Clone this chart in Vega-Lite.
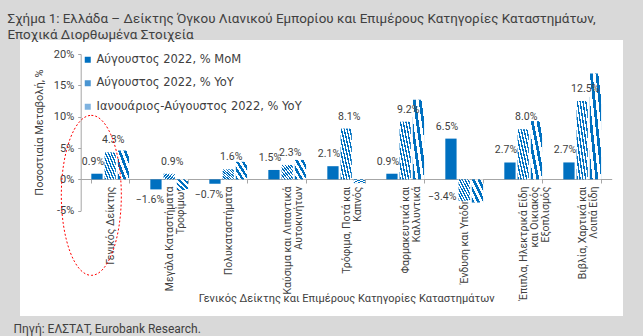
{
  "$schema": "https://vega.github.io/schema/vega-lite/v6.json",
  "background": "#d9d9d9",
  "autosize": {"type": "none"},
  "padding": {"left": 0, "top": 20, "right": 0, "bottom": 0},
  "width": 643,
  "height": 316,
  "view": {"fill": "#ffffff", "stroke": "#d9d9d9", "strokeWidth": 40},
  "datasets": {
    "bars": [
      {"category": "Γενικός Δείκτης", "series": "Αύγουστος 2022, % MoM", "value": 0.9},
      {"category": "Γενικός Δείκτης", "series": "Αύγουστος 2022, % YoY", "value": 4.3},
      {"category": "Γενικός Δείκτης", "series": "Ιανουάριος-Αύγουστος 2022, % YoY", "value": 4.6},
      {"category": "Μεγάλα Καταστήματα\nΤροφίμων", "series": "Αύγουστος 2022, % MoM", "value": -1.6},
      {"category": "Μεγάλα Καταστήματα\nΤροφίμων", "series": "Αύγουστος 2022, % YoY", "value": 0.9},
      {"category": "Μεγάλα Καταστήματα\nΤροφίμων", "series": "Ιανουάριος-Αύγουστος 2022, % YoY", "value": -1.7},
      {"category": "Πολυκαταστήματα", "series": "Αύγουστος 2022, % MoM", "value": -0.7},
      {"category": "Πολυκαταστήματα", "series": "Αύγουστος 2022, % YoY", "value": 1.6},
      {"category": "Πολυκαταστήματα", "series": "Ιανουάριος-Αύγουστος 2022, % YoY", "value": 2.8},
      {"category": "Καύσιμα και Λιπαντικά\nΑυτοκινήτων", "series": "Αύγουστος 2022, % MoM", "value": 1.5},
      {"category": "Καύσιμα και Λιπαντικά\nΑυτοκινήτων", "series": "Αύγουστος 2022, % YoY", "value": 2.3},
      {"category": "Καύσιμα και Λιπαντικά\nΑυτοκινήτων", "series": "Ιανουάριος-Αύγουστος 2022, % YoY", "value": 3.1},
      {"category": "Τρόφιμα, Ποτά και\nΚαπνός", "series": "Αύγουστος 2022, % MoM", "value": 2.1},
      {"category": "Τρόφιμα, Ποτά και\nΚαπνός", "series": "Αύγουστος 2022, % YoY", "value": 8.1},
      {"category": "Τρόφιμα, Ποτά και\nΚαπνός", "series": "Ιανουάριος-Αύγουστος 2022, % YoY", "value": -0.6},
      {"category": "Φαρμακευτικά και\nΚαλλυντικά", "series": "Αύγουστος 2022, % MoM", "value": 0.9},
      {"category": "Φαρμακευτικά και\nΚαλλυντικά", "series": "Αύγουστος 2022, % YoY", "value": 9.2},
      {"category": "Φαρμακευτικά και\nΚαλλυντικά", "series": "Ιανουάριος-Αύγουστος 2022, % YoY", "value": 12.7},
      {"category": "Ένδυση και Υπόδηση", "series": "Αύγουστος 2022, % MoM", "value": 6.5},
      {"category": "Ένδυση και Υπόδηση", "series": "Αύγουστος 2022, % YoY", "value": -3.4},
      {"category": "Ένδυση και Υπόδηση", "series": "Ιανουάριος-Αύγουστος 2022, % YoY", "value": -3.7},
      {"category": "Έπιπλα, Ηλεκτρικά Είδη\nκαι Οικιακός\nΕξοπλισμός", "series": "Αύγουστος 2022, % MoM", "value": 2.7},
      {"category": "Έπιπλα, Ηλεκτρικά Είδη\nκαι Οικιακός\nΕξοπλισμός", "series": "Αύγουστος 2022, % YoY", "value": 8.0},
      {"category": "Έπιπλα, Ηλεκτρικά Είδη\nκαι Οικιακός\nΕξοπλισμός", "series": "Ιανουάριος-Αύγουστος 2022, % YoY", "value": 9.3},
      {"category": "Βιβλία, Χαρτικά και\nΛοιπά Είδη", "series": "Αύγουστος 2022, % MoM", "value": 2.7},
      {"category": "Βιβλία, Χαρτικά και\nΛοιπά Είδη", "series": "Αύγουστος 2022, % YoY", "value": 12.5},
      {"category": "Βιβλία, Χαρτικά και\nΛοιπά Είδη", "series": "Ιανουάριος-Αύγουστος 2022, % YoY", "value": 16.9}
    ],
    "highlight": [
      {"category": "Γενικός Δείκτης", "value": -2.55}
    ]
  },
  "encoding": {
    "x": {
      "field": "category", "type": "nominal", "sort": null, "axis": null,
      "scale": {
        "domain": ["Γενικός Δείκτης", "Μεγάλα Καταστήματα\nΤροφίμων", "Πολυκαταστήματα", "Καύσιμα και Λιπαντικά\nΑυτοκινήτων", "Τρόφιμα, Ποτά και\nΚαπνός", "Φαρμακευτικά και\nΚαλλυντικά", "Ένδυση και Υπόδηση", "Έπιπλα, Ηλεκτρικά Είδη\nκαι Οικιακός\nΕξοπλισμός", "Βιβλία, Χαρτικά και\nΛοιπά Είδη"],
        "range": [80.7, 611.7], "paddingInner": 0.36, "paddingOuter": 0.18
      }
    },
    "y": {
      "field": "value", "type": "quantitative", "axis": null,
      "scale": {"domain": [-5, 20], "range": [190.7, 34], "nice": false}
    },
    "xOffset": {"field": "series", "type": "nominal", "sort": null, "scale": {"domain": ["Αύγουστος 2022, % MoM", "Αύγουστος 2022, % YoY", "Ιανουάριος-Αύγουστος 2022, % YoY"], "paddingInner": 0.15}}
  },
  "resolve": {"axis": {"x": "independent", "y": "independent"}},
  "layer": [
    {
      "data": {"name": "bars"},
      "transform": [{"filter": "datum.series === 'Αύγουστος 2022, % MoM'"}],
      "mark": {"type": "bar"},
      "encoding": {
        "x": {
          "field": "category", "type": "nominal", "sort": null,
          "axis": {
            "orient": "bottom", "offset": -157, "tickBand": "extent", "tickSize": 4, "tickColor": "#a6a6a6",
            "domainColor": "#a6a6a6", "labelAngle": 270, "labelAlign": "right", "labelBaseline": "middle",
            "labelExpr": "split(datum.label, '\\n')", "labelLineHeight": 11, "labelFontSize": 10.5, "labelPadding": 3, "labelLimit": 300,
            "title": "Γενικός Δείκτης και Επιμέρους Κατηγορίες Καταστημάτων", "titleFontSize": 11, "titleY": 119, "titleBaseline": "middle"
          }
        },
        "y": {
          "field": "value", "type": "quantitative",
          "axis": {
            "orient": "left", "offset": -80.7, "values": [-5, 0, 5, 10, 15, 20], "labelExpr": "datum.value + '%'",
            "grid": false, "tickSize": 3, "tickColor": "#a6a6a6", "domainColor": "#a6a6a6", "labelFontSize": 11, "labelPadding": 4,
            "title": "Ποσοστιαία Μεταβολή, %", "titleFontSize": 11, "titleX": -41, "titleY": 112, "titleBaseline": "middle", "titleAngle": 270
          }
        },
        "color": {
          "field": "series", "type": "nominal",
          "scale": {
            "domain": ["Αύγουστος 2022, % MoM", "Αύγουστος 2022, % YoY", "Ιανουάριος-Αύγουστος 2022, % YoY"],
            "range": ["#0070C0", "#4a95d2", "#7fb3e0"]
          },
          "legend": {
            "orient": "none", "legendX": 82, "legendY": 34, "title": null, "symbolType": "square", "symbolSize": 36,
            "labelFontSize": 11.5, "labelFont": "DejaVu Sans", "labelColor": "#404040", "rowPadding": 10.5, "padding": 0,
            "symbolStrokeWidth": 0, "labelOffset": 3, "labelLimit": 400
          }
        }
      }
    },
    {
      "data": {"name": "bars"},
      "transform": [{"filter": "datum.series === 'Αύγουστος 2022, % YoY'"}],
      "mark": {"type": "bar", "color": {"gradient": "linear", "x1": 0, "y1": 1, "x2": 1, "y2": 0, "stops": [
        {"offset": 0, "color": "#0070C0"}, {"offset": 0.0625, "color": "#0070C0"}, {"offset": 0.0625, "color": "#ffffff"}, {"offset": 0.125, "color": "#ffffff"},
        {"offset": 0.125, "color": "#0070C0"}, {"offset": 0.1875, "color": "#0070C0"}, {"offset": 0.1875, "color": "#ffffff"}, {"offset": 0.25, "color": "#ffffff"},
        {"offset": 0.25, "color": "#0070C0"}, {"offset": 0.3125, "color": "#0070C0"}, {"offset": 0.3125, "color": "#ffffff"}, {"offset": 0.375, "color": "#ffffff"},
        {"offset": 0.375, "color": "#0070C0"}, {"offset": 0.4375, "color": "#0070C0"}, {"offset": 0.4375, "color": "#ffffff"}, {"offset": 0.5, "color": "#ffffff"},
        {"offset": 0.5, "color": "#0070C0"}, {"offset": 0.5625, "color": "#0070C0"}, {"offset": 0.5625, "color": "#ffffff"}, {"offset": 0.625, "color": "#ffffff"},
        {"offset": 0.625, "color": "#0070C0"}, {"offset": 0.6875, "color": "#0070C0"}, {"offset": 0.6875, "color": "#ffffff"}, {"offset": 0.75, "color": "#ffffff"},
        {"offset": 0.75, "color": "#0070C0"}, {"offset": 0.8125, "color": "#0070C0"}, {"offset": 0.8125, "color": "#ffffff"}, {"offset": 0.875, "color": "#ffffff"},
        {"offset": 0.875, "color": "#0070C0"}, {"offset": 0.9375, "color": "#0070C0"}, {"offset": 0.9375, "color": "#ffffff"}, {"offset": 1, "color": "#ffffff"}
      ]}},
      "encoding": {}
    },
    {
      "data": {"name": "bars"},
      "transform": [{"filter": "datum.series === 'Ιανουάριος-Αύγουστος 2022, % YoY'"}],
      "mark": {"type": "bar", "color": {"gradient": "linear", "x1": 0, "y1": 1, "x2": 1, "y2": 0, "stops": [
        {"offset": 0, "color": "#0070C0"}, {"offset": 0.125, "color": "#0070C0"}, {"offset": 0.125, "color": "#ffffff"}, {"offset": 0.25, "color": "#ffffff"},
        {"offset": 0.25, "color": "#0070C0"}, {"offset": 0.375, "color": "#0070C0"}, {"offset": 0.375, "color": "#ffffff"}, {"offset": 0.5, "color": "#ffffff"},
        {"offset": 0.5, "color": "#0070C0"}, {"offset": 0.625, "color": "#0070C0"}, {"offset": 0.625, "color": "#ffffff"}, {"offset": 0.75, "color": "#ffffff"},
        {"offset": 0.75, "color": "#0070C0"}, {"offset": 0.875, "color": "#0070C0"}, {"offset": 0.875, "color": "#ffffff"}, {"offset": 1, "color": "#ffffff"}
      ]}},
      "encoding": {}
    },
    {
      "data": {"name": "bars"},
      "transform": [
        {"filter": "datum.series === 'Αύγουστος 2022, % MoM' && datum.value >= 0"},
        {"calculate": "format(datum.value, '.1f') + '%'", "as": "label"}
      ],
      "mark": {"type": "text", "baseline": "middle", "dy": -12, "dx": -4, "fontSize": 10.5, "font": "Roboto", "color": "#404040"},
      "encoding": {"text": {"field": "label"}}
    },
    {
      "data": {"name": "bars"},
      "transform": [
        {"filter": "datum.series === 'Αύγουστος 2022, % YoY' && datum.value >= 0"},
        {"calculate": "format(datum.value, '.1f') + '%'", "as": "label"}
      ],
      "mark": {"type": "text", "baseline": "middle", "dy": -12, "dx": 3, "fontSize": 10.5, "font": "Roboto", "color": "#404040"},
      "encoding": {"text": {"field": "label"}}
    },
    {
      "data": {"name": "bars"},
      "transform": [
        {"filter": "datum.series === 'Αύγουστος 2022, % MoM' && datum.value < 0"},
        {"calculate": "format(datum.value, '.1f') + '%'", "as": "label"}
      ],
      "mark": {"type": "text", "baseline": "middle", "dy": 11, "dx": -6, "fontSize": 10.5, "font": "Roboto", "color": "#404040"},
      "encoding": {"text": {"field": "label"}}
    },
    {
      "data": {"name": "bars"},
      "transform": [
        {"filter": "datum.series === 'Αύγουστος 2022, % YoY' && datum.value < 0"},
        {"calculate": "format(datum.value, '.1f') + '%'", "as": "label"}
      ],
      "mark": {"type": "text", "baseline": "middle", "dy": -4, "dx": -22, "fontSize": 10.5, "font": "Roboto", "color": "#404040"},
      "encoding": {"text": {"field": "label"}}
    },
    {
      "data": {"name": "highlight"},
      "mark": {
        "type": "point", "filled": false, "size": 25600, "stroke": "#ff0000", "strokeWidth": 1, "strokeDash": [2, 2], "opacity": 1,
        "shape": "M0,-1C0.2071,-1,0.375,-0.5523,0.375,0C0.375,0.5523,0.2071,1,0,1C-0.2071,1,-0.375,0.5523,-0.375,0C-0.375,-0.5523,-0.2071,-1,0,-1Z"
      },
      "encoding": {
        "xOffset": {"value": 0},
        "x": {
          "field": "category", "type": "nominal", "sort": null,
          "axis": {
            "orient": "top", "domain": false, "ticks": false, "labels": false,
            "title": ["Σχήμα 1: Ελλάδα – Δείκτης Όγκου Λιανικού Εμπορίου και Επιμέρους Κατηγορίες Καταστημάτων,", "Εποχικά Διορθωμένα Στοιχεία"],
            "titleX": 7, "titleY": -9, "titleAngle": 0, "titleAlign": "left", "titleAnchor": "start", "titleBaseline": "top",
            "titleFontSize": 13.4, "titleLineHeight": 16, "titleFont": "Roboto", "titleColor": "#404040"
          }
        },
        "y": {
          "field": "value", "type": "quantitative",
          "axis": {
            "orient": "right", "domain": false, "ticks": false, "labels": false, "grid": false,
            "title": "Πηγή: ΕΛΣΤΑΤ, Eurobank Research.",
            "titleX": -630, "titleY": 308, "titleAngle": 0, "titleAlign": "left", "titleAnchor": "start", "titleBaseline": "middle",
            "titleFontSize": 12, "titleFont": "Roboto", "titleColor": "#404040"
          }
        }
      }
    }
  ],
  "config": {
    "background": "#d9d9d9",
    "font": "Roboto",
    "axis": {"labelFont": "Roboto", "titleFont": "Roboto", "titleFontWeight": "normal", "labelColor": "#404040", "titleColor": "#404040"}
  }
}
